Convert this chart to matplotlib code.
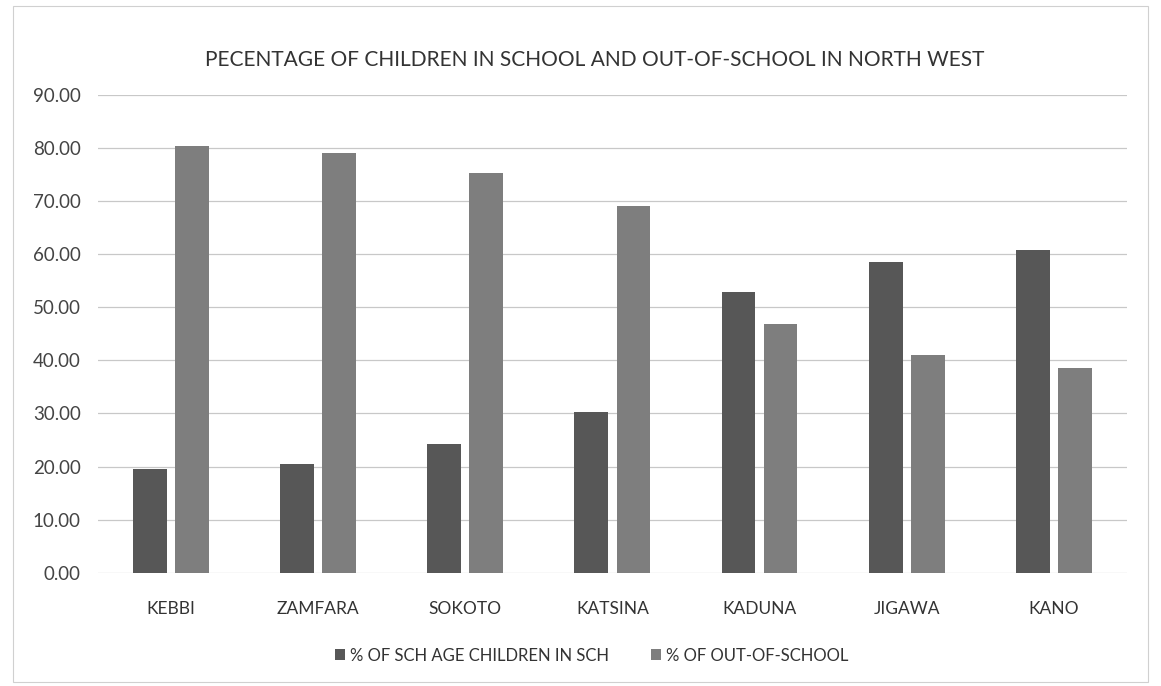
import numpy as np
import matplotlib.pyplot as plt
from matplotlib.patches import Rectangle

states = ["KEBBI", "ZAMFARA", "SOKOTO", "KATSINA", "KADUNA", "JIGAWA", "KANO"]
in_school = [19.6, 20.5, 24.3, 30.3, 52.9, 58.5, 60.8]
out_of_school = [80.4, 79.0, 75.2, 69.0, 46.9, 41.0, 38.6]

plt.rcParams['font.family'] = ['Lato', 'DejaVu Sans']

fig = plt.figure(figsize=(11.61, 6.86), dpi=100)
fig.patch.set_facecolor('white')
ax = fig.add_axes([0.084, 0.165, 0.887, 0.697])

x = np.arange(len(states))
w = 0.23
ax.bar(x - 0.143, in_school, w, color='#575757', label='% OF SCH AGE CHILDREN IN SCH', zorder=3)
ax.bar(x + 0.143, out_of_school, w, color='#7e7e7e', label='% OF OUT-OF-SCHOOL', zorder=3)

ax.set_xlim(-0.5, len(states) - 0.5)
ax.set_ylim(0, 90)
ax.set_yticks(np.arange(0, 91, 10))
ax.set_yticklabels([f'{v:.2f}' for v in np.arange(0, 91, 10)], fontsize=13.5, color='#444444')
ax.set_xticks(x)
ax.set_xticklabels(states, fontsize=12.5, color='#333333')
ax.tick_params(length=0, pad=12)
ax.tick_params(axis='x', pad=20)
ax.grid(axis='y', color='#c8c8c8', linewidth=0.9, zorder=0)
for s in ax.spines.values():
    s.set_visible(False)

fig.text(0.512, 0.912, 'PECENTAGE OF CHILDREN IN SCHOOL AND OUT-OF-SCHOOL IN NORTH WEST',
         ha='center', va='center', fontsize=15, color='#333333')

ax.legend(loc='upper center', bbox_to_anchor=(0.48, -0.125), ncol=2, frameon=False,
          fontsize=12, handlelength=0.6, handleheight=0.6, columnspacing=2.5,
          handletextpad=0.3, labelcolor='#333333')

# light frame around the chart area
fig.add_artist(Rectangle((0.011, 0.006), 0.978, 0.985, transform=fig.transFigure,
                         fill=False, edgecolor='#d0d0d0', linewidth=0.8))

fig.savefig('out.png', dpi=100)
